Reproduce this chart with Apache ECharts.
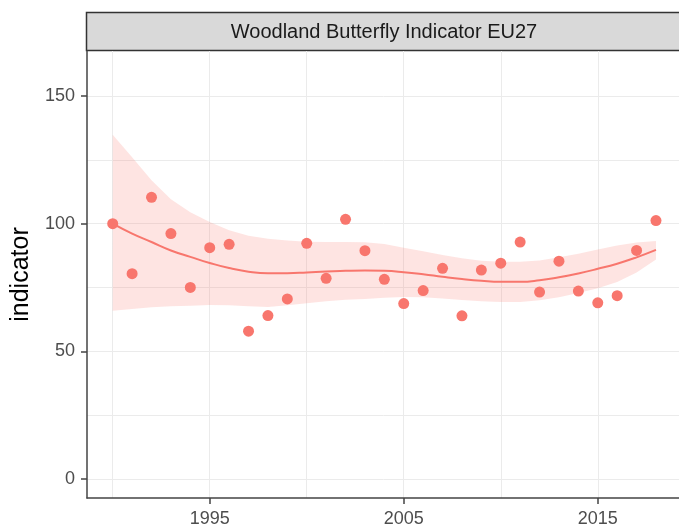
<!DOCTYPE html>
<html>
<head>
<meta charset="utf-8">
<script src="https://cdn.jsdelivr.net/npm/echarts@6/dist/echarts.min.js"></script>
<style>
  html, body { margin: 0; padding: 0; background: #fff; }
  #chart { width: 679px; height: 526px; }
</style>
</head>
<body>
<div id="chart"></div>
<script>
// values
var years = [1990, 1991, 1992, 1993, 1994, 1995, 1996, 1997, 1998, 1999,
             2000, 2001, 2002, 2003, 2004, 2005, 2006, 2007, 2008, 2009,
             2010, 2011, 2012, 2013, 2014, 2015, 2016, 2017, 2018];
var indicator = [100, 80.4, 110.3, 96.1, 75, 90.6, 91.9, 57.9, 64, 70.5,
                 92.3, 78.6, 101.7, 89.4, 78.2, 68.7, 73.8, 82.5, 63.9, 81.8,
                 84.5, 92.8, 73.2, 85.3, 73.6, 69.0, 71.8, 89.5, 101.2];
// loess fit and its confidence band
var fit = [100, 96.1, 92.8, 89.5, 87, 84.6, 82.6, 81.2, 80.6, 80.6,
           80.9, 81.3, 81.5, 81.6, 81.5, 81.0, 80.2, 79.2, 78.3, 77.6,
           77.2, 77.2, 77.8, 79, 80.5, 82.3, 84.3, 86.8, 89.7];
var upper = [134.8, 126, 117, 109.5, 104.5, 100.6, 97.4, 95.3, 94.1, 93.4,
             92.9, 92.8, 92.8, 92.7, 92, 90.6, 89.2, 87.7, 86.4, 85.5,
             85.1, 85.1, 85.6, 86.8, 88.2, 89.9, 91.4, 92.6, 93.2];
var lower = [65.9, 66.6, 67.3, 67.6, 67.8, 68.1, 68, 67.6, 67.4, 68,
             68.8, 69.6, 70.2, 70.5, 71, 71.3, 71.2, 70.7, 70.1, 69.6,
             69.3, 69.3, 70, 71.2, 72.8, 74.7, 77.1, 80.9, 86];
var xTicks = [1995, 2005, 2015];
var xGrid = [1990, 1995, 2000, 2005, 2010, 2015, 2020];
var yTicks = [0, 50, 100, 150];
var yGrid = [0, 25, 50, 75, 100, 125, 150];
var panelTitle = 'Woodland Butterfly Indicator EU27';

var col = '#F8766D';
var font = '"Liberation Sans", Arial, sans-serif';

function pairs(xs, ys) {
    var out = [];
    for (var i = 0; i < xs.length; i++) {
        out.push([xs[i], ys[i]]);
    }
    return out;
}
var bandData = [];
for (var i = 0; i < years.length; i++) {
    bandData.push([years[i], lower[i], upper[i]]);
}

// ribbon: one polygon, upper edge left->right then lower edge back
function renderBand(params, api) {
    if (params.dataIndex !== 0) return null;
    var pts = [];
    for (var i = 0; i < bandData.length; i++) {
        pts.push(api.coord([bandData[i][0], bandData[i][2]]));
    }
    for (var j = bandData.length - 1; j >= 0; j--) {
        pts.push(api.coord([bandData[j][0], bandData[j][1]]));
    }
    return {
        type: 'polygon',
        shape: {points: pts},
        style: {fill: 'rgba(248,118,109,0.2)', stroke: 'none'}
    };
}

var xRange = {min: 1988.675, max: 2019.96};
var yRange = {min: -7.44, max: 167.6};
var plain = function (v) { return String(v); };

var chart = echarts.init(document.getElementById('chart'));
chart.setOption({
    animation: false,
    backgroundColor: '#ffffff',
    grid: {
        left: 87,
        top: 51,
        width: 607,
        height: 447,
        containLabel: false,
        outerBoundsMode: 'none'
    },
    graphic: [
        {
            type: 'rect',
            shape: {x: 86.5, y: 12.5, width: 620, height: 38},
            style: {fill: '#D9D9D9', stroke: '#333333', lineWidth: 1.5},
            silent: true
        },
        {
            type: 'text',
            x: 384,
            y: 32,
            style: {
                text: panelTitle,
                fill: '#1A1A1A',
                font: '20px ' + font,
                align: 'center',
                verticalAlign: 'middle'
            },
            silent: true
        }
    ],
    xAxis: [
        {
            type: 'value',
            min: xRange.min,
            max: xRange.max,
            axisLine: {show: true, onZero: false, lineStyle: {color: '#444444', width: 1.5}},
            axisTick: {show: true, length: 6, customValues: xTicks, lineStyle: {color: '#444444', width: 1.5}},
            axisLabel: {show: true, customValues: xTicks, formatter: plain, margin: 12, color: '#4D4D4D', fontSize: 18, fontFamily: font},
            splitLine: {show: false}
        },
        {
            // vertical grid lines only
            type: 'value',
            min: xRange.min,
            max: xRange.max,
            axisLine: {show: false, onZero: false},
            axisTick: {show: false, customValues: xGrid},
            axisLabel: {show: false},
            splitLine: {show: true, lineStyle: {color: '#EBEBEB', width: 1}}
        }
    ],
    yAxis: [
        {
            type: 'value',
            min: yRange.min,
            max: yRange.max,
            name: 'indicator',
            nameLocation: 'middle',
            nameRotate: 90,
            nameGap: 51,
            nameTextStyle: {color: '#000000', fontSize: 25, fontFamily: font},
            axisLine: {show: true, onZero: false, lineStyle: {color: '#444444', width: 1.5}},
            axisTick: {show: true, length: 6, customValues: yTicks, lineStyle: {color: '#444444', width: 1.5}},
            axisLabel: {show: true, customValues: yTicks, formatter: plain, margin: 12, color: '#4D4D4D', fontSize: 18, fontFamily: font},
            splitLine: {show: false}
        },
        {
            // horizontal grid lines only
            type: 'value',
            position: 'left',
            min: yRange.min,
            max: yRange.max,
            axisLine: {show: false, onZero: false},
            axisTick: {show: false, customValues: yGrid},
            axisLabel: {show: false},
            splitLine: {show: true, lineStyle: {color: '#EBEBEB', width: 1}}
        }
    ],
    series: [
        {
            name: 'band',
            type: 'custom',
            data: bandData,
            encode: {x: 0, y: [1, 2]},
            renderItem: renderBand,
            silent: true,
            z: 1
        },
        {
            name: 'fit',
            type: 'line',
            data: pairs(years, fit),
            smooth: true,
            symbol: 'none',
            lineStyle: {color: col, width: 2},
            z: 2
        },
        {
            name: 'indicator',
            type: 'scatter',
            data: pairs(years, indicator),
            symbolSize: 11,
            itemStyle: {color: col, opacity: 1},
            z: 3
        }
    ]
});
</script>
</body>
</html>
